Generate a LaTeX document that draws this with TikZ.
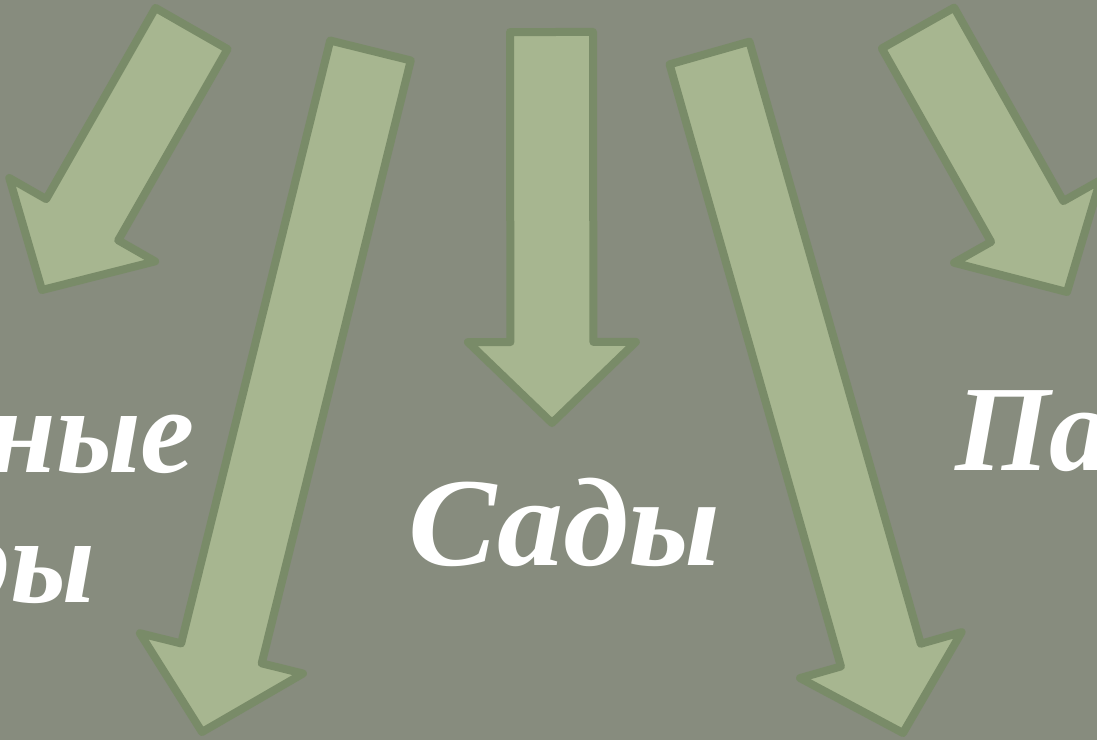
\documentclass[tikz,border=0pt]{standalone}
\usepackage{fontspec}
\setmainfont{Liberation Serif}
\usetikzlibrary{calc}
\definecolor{bgcol}{RGB}{135,140,126}
\definecolor{arrfill}{RGB}{167,182,144}
\definecolor{arrline}{RGB}{121,139,104}
\tikzset{
  arrowbody/.style={fill=arrfill, draw=arrline, line width=8pt, line join=round},
  bigtext/.style={text=white, inner sep=0pt, outer sep=0pt, font=\fontsize{122}{130}\selectfont\bfseries\itshape}
}
\newcommand{\grarrow}[2]{%
  \coordinate (#1-#2-b) at ($(#2)!81pt!(#1)$);
  \draw[arrowbody] ($(#1)!41.5pt!90:(#2)$) -- ($(#1-#2-b)!41.5pt!90:(#2)$) -- ($(#1-#2-b)!84pt!90:(#2)$) -- (#2) -- ($(#1-#2-b)!84pt!-90:(#2)$) -- ($(#1-#2-b)!41.5pt!-90:(#2)$) -- ($(#1)!41.5pt!-90:(#2)$) -- cycle;
}
\begin{document}
\begin{tikzpicture}[x=1pt,y=-1pt]
\fill[bgcol] (0,0) rectangle (1097,740);
\useasboundingbox (0,0) rectangle (1097,740);
% tails and tips
\coordinate (t1) at (191.5,28.5); \coordinate (p1) at (42,290);
\coordinate (t2) at (370.5,50.5); \coordinate (p2) at (202,732);
\coordinate (t3) at (551.5,32);   \coordinate (p3) at (552,423);
\coordinate (t4) at (709.5,53);   \coordinate (p4) at (903,733);
\coordinate (t5) at (918,28);     \coordinate (p5) at (1067,292);
\grarrow{t1}{p1}
\grarrow{t2}{p2}
\grarrow{t3}{p3}
\grarrow{t4}{p4}
\grarrow{t5}{p5}
% labels
\node[bigtext, anchor=base east] (l1a) at (195,472) {ные};
\node[bigtext, anchor=base east] (l1b) at (95,602) {ры};
\node[bigtext, anchor=base west, xscale=1.05, font=\fontsize{126}{130}\selectfont\bfseries\itshape] (l2) at (408,565) {Сады};
\node[bigtext, anchor=base west] (l3) at (955,470) {Па};
\end{tikzpicture}
\end{document}
